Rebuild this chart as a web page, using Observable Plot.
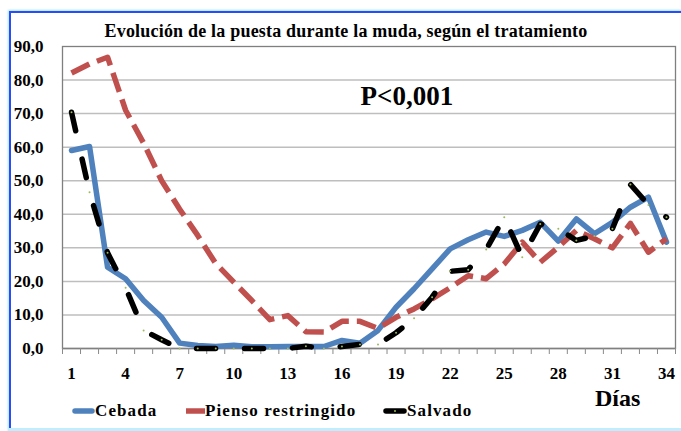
<!DOCTYPE html>
<html>
<head>
<meta charset="utf-8">
<script src="https://cdn.jsdelivr.net/npm/d3@7"></script>
<script src="https://cdn.jsdelivr.net/npm/@observablehq/plot@0.6"></script>
<style>
  html, body { margin: 0; padding: 0; background: #fff; }
  #wrap { position: relative; width: 681px; height: 431px; overflow: hidden; font-family: "Liberation Serif", "Times New Roman", serif; }
  #wrap svg text { font-family: "Liberation Serif", "Times New Roman", serif !important; }
  #frame { position: absolute; left: 9px; top: 11px; width: 700px; height: 430px; border-top: 2px solid #2a4cf2; border-left: 2px solid #2a4cf2; box-shadow: -1px -1px 2px #9fe6ff; }
  #bottomline { position: absolute; left: 8px; top: 428px; width: 680px; height: 3px; background: #bfefff; }
  #chart { position: absolute; left: 0; top: 0; }
  .ovl { position: absolute; font-weight: bold; color: #000; white-space: nowrap; font-family: "Liberation Serif", serif; }
  #title { left: 0; width: 692px; text-align: center; top: 21px; font-size: 18px; letter-spacing: 0.2px; }
  #dias { left: 595px; top: 385px; font-size: 24px; }
  .leg { position: absolute; top: 401px; font-size: 17px; font-weight: bold; letter-spacing: 1.1px; white-space: nowrap; font-family: "Liberation Serif", serif; }
  .leg svg { position: absolute; top: 7px; }
  .leg span { position: absolute; top: 0; }
</style>
</head>
<body>
<div id="wrap">
  <div id="frame"></div>
  <div id="bottomline"></div>
  <div id="chart"></div>
  <div class="ovl" id="title">Evolución de la puesta durante la muda, según el tratamiento</div>
  <div class="ovl" id="dias">Días</div>
  <div id="legend"></div>
</div>
<script>
// ---- Data ----
const days = [1,2,3,4,5,6,7,8,9,10,11,12,13,14,15,16,17,18,19,20,21,22,23,24,25,26,27,28,29,30,31,32,33,34];
const cebada = [59.0,60.2,24.2,20.8,14.3,9.3,1.6,0.9,0.6,1.0,0.5,0.5,0.6,0.6,0.6,2.4,1.6,5.4,12.3,17.8,23.7,29.7,32.4,34.7,33.4,35.2,37.6,32.0,38.6,34.2,37.6,42.1,45.1,31.7];
const piensoRestringido = [82.1,84.8,86.8,71.0,61.2,50.0,41.5,33.7,25.3,19.8,14.3,8.6,9.8,5.0,4.9,8.1,8.1,6.0,9.3,11.8,14.8,18.1,21.7,20.8,25.2,31.7,25.7,30.2,35.2,32.7,30.0,37.3,28.7,32.7];
const salvado = [70.4,46.6,28.5,18.1,5.4,2.6,0,0,0,0,0,0,0,0.7,0,0.6,1.2,1.2,4.7,9.0,15.3,23.0,23.5,29.5,39.1,27.2,37.1,35.7,32.2,33.5,35.7,48.9,42.8,39.1];
const seriesNames = ["Cebada", "Pienso restringido", "Salvado"];
const seriesColors = ["#4F81BD", "#C0504D", "#000000"];
const yTicks = [0,10,20,30,40,50,60,70,80,90];
const xLabelTicks = [1,4,7,10,13,16,19,22,25,28,31,34];
const annotation = "P<0,001";

// ---- Build tables ----
const toRows = arr => days.map((d, i) => ({day: d, v: arr[i]}));
const rowsC = toRows(cebada), rowsP = toRows(piensoRestringido), rowsS = toRows(salvado);
const boundaries = [...days.map(d => d - 0.5), days[days.length - 1] + 0.5];
const fmt = d => d.toFixed(1).replace(".", ",");

const chart = Plot.plot({
  width: 681,
  height: 431,
  marginLeft: 62,
  marginRight: 6,
  marginTop: 46,
  marginBottom: 83,
  style: {fontFamily: "Liberation Serif, serif", background: "transparent", color: "#000"},
  x: {domain: [0.5, 34.5]},
  y: {domain: [0, 90]},
  marks: [
    Plot.ruleY(yTicks.slice(1, -1), {stroke: "#BEBEBE", strokeWidth: 1.5}),
    Plot.frame({stroke: "#7f7f7f", strokeWidth: 1.3}),
    Plot.ruleY([0], {stroke: "#808080", strokeWidth: 1.6}),
    Plot.axisY({ticks: yTicks, tickSize: 0, tickPadding: 19, tickFormat: fmt, label: null,
      fontSize: 17, fontWeight: "bold", fill: "#000"}),
    Plot.axisX({ticks: boundaries, tickSize: 6, tickFormat: () => "", label: null, stroke: "#8a8a8a"}),
    Plot.axisX({ticks: xLabelTicks, tickSize: 0, tickPadding: 18, label: null,
      fontSize: 17, fontWeight: "bold", fill: "#000"}),
    Plot.line(rowsC, {x: "day", y: "v", stroke: seriesColors[0], strokeWidth: 5.5, strokeLinejoin: "round"}),
    Plot.line(rowsP, {x: "day", y: "v", stroke: seriesColors[1], strokeWidth: 5.5, strokeDasharray: "20,8", strokeLinecap: "butt"}),
    Plot.line(rowsS, {x: "day", y: "v", stroke: seriesColors[2], strokeWidth: 5.5, strokeDasharray: "19,29", strokeLinecap: "round"}),
    Plot.dot(rowsS, {x: "day", y: "v", r: 1, fill: "#9BBB59", stroke: null}),
    Plot.text([annotation], {x: 19.6, y: 75.2, text: d => d, fontSize: 27, fontWeight: "bold", fill: "#000", textAnchor: "middle", lineAnchor: "middle"})
  ]
});
document.getElementById("chart").appendChild(chart);

// ---- Legend ----
const legendPos = [
  {sx: 72, tx: 95},
  {sx: 186, tx: 205},
  {sx: 383, tx: 407}
];
const legend = document.getElementById("legend");
seriesNames.forEach((name, i) => {
  const item = document.createElement("div");
  item.className = "leg";
  item.style.left = legendPos[i].sx + "px";
  const w = legendPos[i].tx - legendPos[i].sx;
  const cap = i === 1 ? "butt" : "round";
  const dot = i === 2 ? `<circle cx="${w/2}" cy="3" r="1" fill="#9BBB59"/>` : "";
  item.innerHTML = `<svg width="${w}" height="6" style="left:0"><line x1="${i===1?0:3}" y1="3" x2="${i===1?w:w-3}" y2="3" stroke="${seriesColors[i]}" stroke-width="5.5" stroke-linecap="${cap}"/>${dot}</svg><span style="left:${w}px">${name}</span>`;
  legend.appendChild(item);
});
</script>
</body>
</html>
